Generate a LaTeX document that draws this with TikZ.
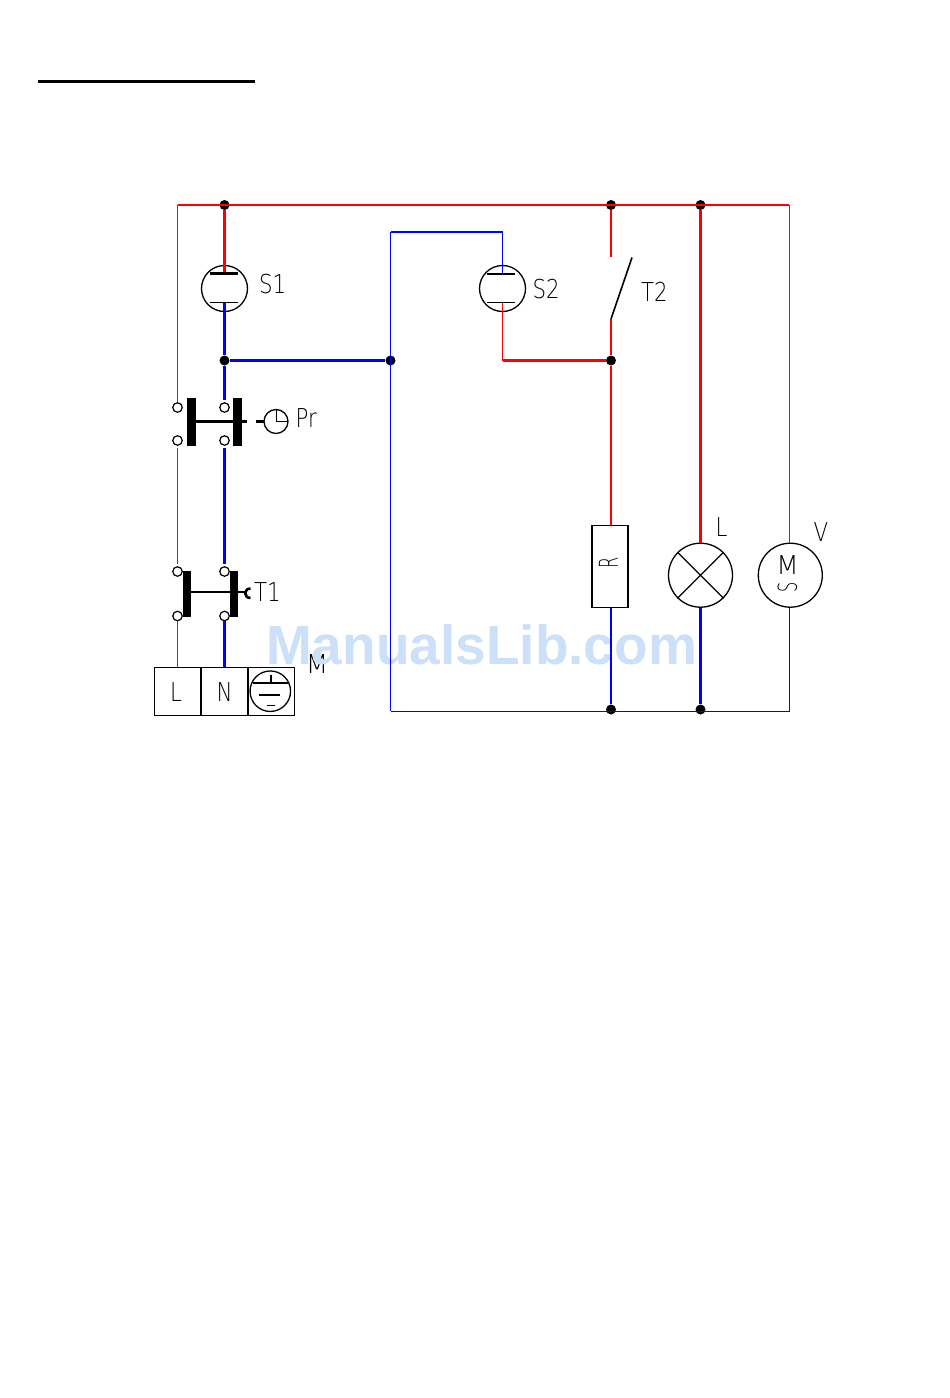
\documentclass[tikz,border=0pt]{standalone}
\usepackage{fontspec}
\setmainfont{Liberation Sans}
\newfontfamily\cad[FakeStretch=0.82]{DejaVu Sans ExtraLight}
\newfontfamily\cadw{DejaVu Sans ExtraLight}
\newfontfamily\cadn[FakeStretch=0.62]{DejaVu Sans ExtraLight}
\definecolor{wred}{RGB}{255,0,0}
\definecolor{wblue}{RGB}{0,0,255}
\definecolor{wmark}{RGB}{204,224,250}
\tikzset{
 x=1pt,y=-1pt,
 hot/.style={wred,line width=2.1pt},
 neutral/.style={wblue,line width=2.1pt},
 hotthin/.style={wred,line width=1pt},
 neutralthin/.style={wblue,line width=1pt},
 junction/.style={circle,fill=black,inner sep=0pt,minimum size=10pt},
 terminal/.style={circle,draw=black,fill=white,line width=1.2pt,inner sep=0pt,minimum width=9.5pt,minimum height=7.5pt},
 lamp/.style={circle,draw=black,line width=1.3pt,inner sep=0pt,minimum size=64pt},
 neon/.style={circle,draw=black,line width=1.3pt,inner sep=0pt,minimum size=46pt},
 gap/.style={shorten >=2pt,shorten <=2pt},
 gapend/.style={shorten >=2pt},
 link/.style={black,line width=2.6pt},
 sym/.style={black,line width=1.2pt},
 lbl/.style={inner sep=0pt,font=\cad\fontsize{26}{26}\selectfont,text=black},
 box/.style={draw=black,line width=1.4pt,inner sep=0pt}
}
\begin{document}
\begin{tikzpicture}
\useasboundingbox (0,0) rectangle (950,1398);
\fill[white] (0,0) rectangle (950,1398);
\coordinate (ruleA) at (38,81);
\coordinate (ruleB) at (255,81);
\draw[black,line width=3pt] (ruleA) -- (ruleB);
% label hidden in part by the watermark
\node[lbl,font=\cadw\fontsize{26}{26}\selectfont] (a13) at (317,664.5) {M};
\node[inner sep=0pt,text=wmark,font=\bfseries\fontsize{55}{55}\selectfont] (wm) at (481.5,645) {ManualsLib.com};
% corners
\coordinate (tl) at (177.5,205);
\coordinate (tr) at (789,205);
\coordinate (br) at (789,711);
\coordinate (bl) at (390.5,711);
\coordinate (sTwoTop) at (390.5,232);
\coordinate (sTwoCorner) at (502.5,232);
\coordinate (sTwoLow) at (502.5,360.5);
% nodes
\node[junction] (j1) at (224.5,205) {};
\node[junction] (j2) at (611,205) {};
\node[junction] (j3) at (700.5,205) {};
\node[junction] (j4) at (224.5,360.5) {};
\node[junction] (j5) at (390.5,360.5) {};
\node[junction] (j6) at (611,360.5) {};
\node[junction] (j7) at (611,709.5) {};
\node[junction] (j8) at (700.5,709.5) {};
\node[neon] (s1) at (224.5,288.5) {};
\node[neon] (s2) at (502.5,288.5) {};
\node[lamp] (lp) at (700.5,575.2) {};
\node[lamp] (mo) at (790.3,575.2) {};
\node[box,line width=1.8pt,minimum width=36pt,minimum height=82pt] (rr) at (610.2,566.5) {};
\node[terminal] (p1) at (177.5,407.5) {};
\node[terminal] (p2) at (224.5,407.5) {};
\node[terminal] (p3) at (177.5,440.5) {};
\node[terminal] (p4) at (224.5,440.5) {};
\node[terminal] (q1) at (177.5,571.5) {};
\node[terminal] (q2) at (224.5,571.5) {};
\node[terminal] (q3) at (177.5,616) {};
\node[terminal] (q4) at (224.5,616) {};
\node[box,minimum width=46.5pt,minimum height=48pt] (tL) at (177.5,691.5) {};
\node[box,minimum width=47pt,minimum height=48pt] (tN) at (224.5,691.5) {};
\node[box,minimum width=46.5pt,minimum height=48pt] (tE) at (271,691.5) {};
\coordinate (t2a) at (611,256.5);
\coordinate (t2b) at (611,319);
\coordinate (t2c) at (632,257.5);
% wires
\draw[hotthin] (tl) -- (p1);
\draw[hotthin,gap] (p3) -- (q1);
\draw[hotthin] (q3) -- (q3 |- tL.north);
\draw[hot] (tl) -- (tr);
\draw[hot] (j1) -- (224.5,273.5);
\draw[neutral] (224.5,303) -- (j4);
\draw[neutral,gapend] (j4) -- (p2);
\draw[neutral] (j4) -- (j5);
\draw[neutral,gap] (p4) -- (q2);
\draw[neutral] (q4) -- (q4 |- tN.north);
\draw[neutralthin,line width=1.3pt] (sTwoTop) -- (bl);
\draw[neutralthin,line width=1.3pt] (sTwoCorner) -- (502.5,274);
\draw[neutral] (sTwoTop) -- (sTwoCorner);
\draw[neutralthin] (bl) -- (br) -- (789,607.5);
\draw[hotthin,line width=1.3pt] (502.5,302.5) -- (sTwoLow);
\draw[hot] (sTwoLow) -- (j6);
\draw[hot] (j2) -- (t2a);
\draw[hot] (t2b) -- (j6);
\draw[hot] (j6) -- (j6 |- rr.north);
\draw[neutral] (j7 |- rr.south) -- (j7);
\draw[hot] (j3) -- (lp.north);
\draw[neutral] (lp.south) -- (j8);
\draw[hotthin] (tr) -- (789,543);
% symbols
\draw[black,line width=1.6pt] (t2b) -- (t2c);
\draw[link] (210,273.5) -- (238,273.5);
\draw[sym] (210,302.5) -- (238,302.5);
\draw[link] (486.7,274) -- (515,274);
\draw[sym] (486.7,302.5) -- (515,302.5);
\draw[sym] (lp.135) -- (lp.315);
\draw[sym] (lp.45) -- (lp.225);
\draw[black,line width=8.6pt] (191.7,398) -- (191.7,445.7);
\draw[black,line width=8.6pt] (237.5,398) -- (237.5,445.7);
\draw[link] (191.7,421.5) -- (246.8,421.5);
\draw[link] (256,421.5) -- (264,421.5);
\draw[black,line width=7.5pt] (187,571) -- (187,616.7);
\draw[black,line width=7.5pt] (234,571) -- (234,616.7);
\draw[link] (187,592) -- (245,592);
\draw[link] (250.5,588.5) .. controls (243.5,588.5) and (243.5,598) .. (250.5,598);
\node[circle,draw=black,line width=1.3pt,inner sep=0pt,minimum size=24pt] (clk) at (276,421.5) {};
\draw[sym] (276.7,410) -- (276.7,421.5) -- (288,421.5);
\node[circle,draw=black,line width=1.3pt,inner sep=0pt,minimum size=40.5pt] (gnd) at (270.3,691.2) {};
\draw[black,line width=1.7pt] (252.5,683.3) -- (288,683.3);
\draw[sym] (271,675) -- (271,683.3);
\draw[black,line width=1.7pt] (259,695) -- (280,695);
\draw[sym] (266.7,705.5) -- (275,705.5);
% labels
\node[lbl,anchor=west] (a1) at (259,284.5) {S1};
\node[lbl,anchor=west] (a2) at (532.5,289.5) {S2};
\node[lbl,anchor=west] (a3) at (641,291.5) {T2};
\node[lbl,anchor=west] (a4) at (295.5,418.5) {Pr};
\node[lbl,anchor=west] (a5) at (254,592) {T1};
\node[lbl] (a6) at (176,692.5) {L};
\node[lbl] (a7) at (224.5,692.5) {N};
\node[lbl] (a8) at (721.5,527.5) {L};
\node[lbl] (a9) at (821,532.5) {V};
\node[lbl,font=\cadn\fontsize{26}{26}\selectfont,rotate=90] (a10) at (608.5,562.5) {R};
\node[lbl,font=\cadw\fontsize{26}{26}\selectfont] (a11) at (787.5,565) {M};
\node[lbl,font=\cadn\fontsize{26}{26}\selectfont,rotate=90] (a12) at (787.5,587) {S};
\end{tikzpicture}
\end{document}
